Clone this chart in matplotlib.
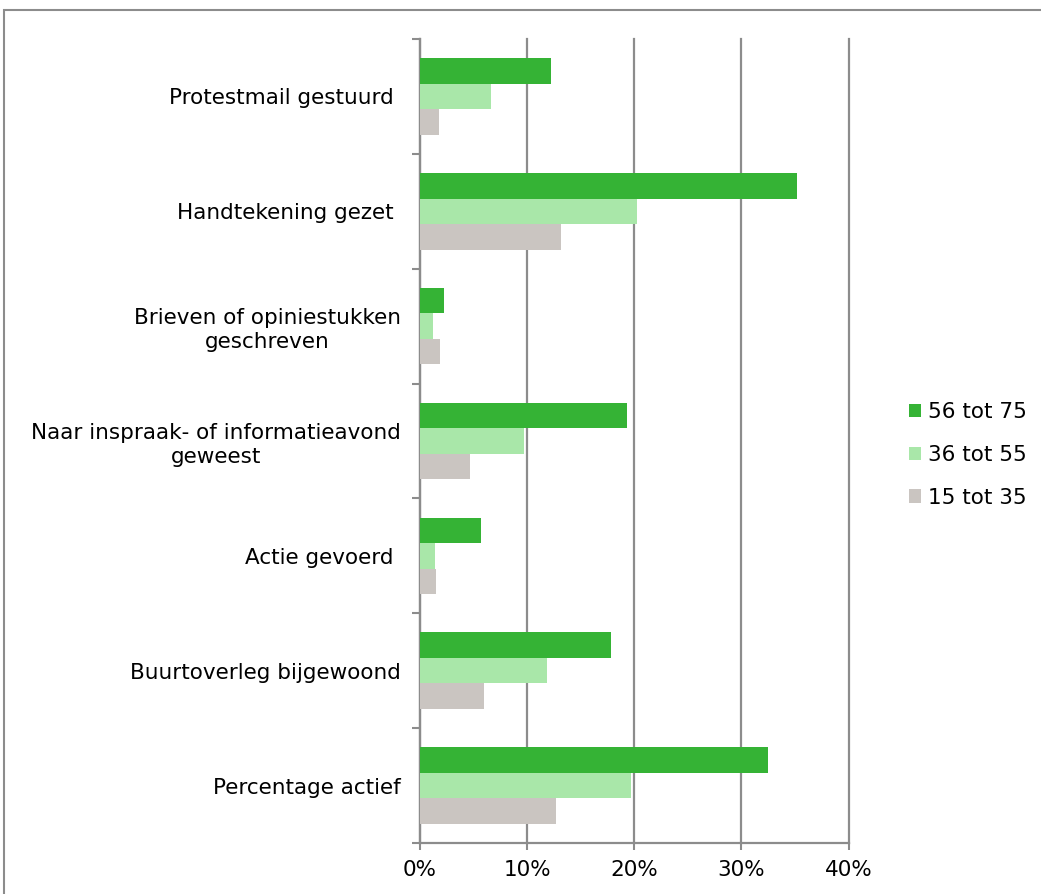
import matplotlib
matplotlib.use('Agg')
import matplotlib.pyplot as plt
from matplotlib.patches import Rectangle
from matplotlib.ticker import FixedLocator, PercentFormatter
import numpy as np

# data (percentages), categories from top to bottom
categories = ['Protestmail gestuurd ', 'Handtekening gezet ',
              'Brieven of opiniestukken\ngeschreven',
              'Naar inspraak- of informatieavond\ngeweest',
              'Actie gevoerd ', 'Buurtoverleg bijgewoond',
              'Percentage actief']
age_56_75 = [12.2, 35.2, 2.2, 19.3, 5.7, 17.8, 32.5]
age_36_55 = [6.6, 20.3, 1.25, 9.7, 1.4, 11.9, 19.7]
age_15_35 = [1.8, 13.2, 1.9, 4.7, 1.5, 6.0, 12.7]
series_names = ['56 tot 75', '36 tot 55', '15 tot 35']
colors = ['#35B335', '#A9E7A9', '#CAC5C1']

plt.rcParams['font.family'] = 'DejaVu Sans'
fig = plt.figure(figsize=(10.41, 8.94), dpi=100)
ax = fig.add_axes([420 / 1041, 1 - 843 / 894, (848.5 - 420) / 1041, (843 - 39) / 894])

y = np.arange(len(categories))
h = 0.222
for i, (vals, name, col) in enumerate(zip([age_56_75, age_36_55, age_15_35], series_names, colors)):
    ax.barh(y + (i - 1) * h, vals, height=h, color=col, label=name, zorder=3)

grey = '#8C8C8C'
fs = 15.5
ax.set_xlim(0, 40)
ax.set_ylim(len(categories) - 0.5, -0.5)
ax.set_xticks([0, 10, 20, 30, 40])
ax.xaxis.set_major_formatter(PercentFormatter(decimals=0))
ax.grid(axis='x', color=grey, linewidth=1.6, zorder=0)
for gl in ax.get_xgridlines():
    gl.set_clip_on(False)

ax.set_yticks(y)
ax.set_yticklabels(categories, multialignment='center', linespacing=1.25)
ax.yaxis.set_minor_locator(FixedLocator(np.arange(-0.5, len(categories), 1.0)))
ax.tick_params(axis='y', which='major', length=0, pad=14, labelsize=fs)
ax.tick_params(axis='y', which='minor', length=6, width=1.5, color=grey, direction='out')
ax.tick_params(axis='x', length=5, width=1.5, color=grey, pad=7, labelsize=fs)

for s in ['top', 'right']:
    ax.spines[s].set_visible(False)
for s in ['left', 'bottom']:
    ax.spines[s].set_color(grey)
    ax.spines[s].set_linewidth(1.6)

ax.legend(loc='center left', bbox_to_anchor=(909 / 1041, 1 - 455 / 894),
          bbox_transform=fig.transFigure, frameon=False, fontsize=fs,
          handlelength=0.56, handleheight=0.56, handletextpad=0.3,
          labelspacing=1.05, borderpad=0, borderaxespad=0)

# outer chart border
fig.patches.append(Rectangle((4 / 1041, -0.1), 2, 1.1 - 10 / 894,
                             transform=fig.transFigure, fill=False,
                             edgecolor=grey, linewidth=1.5))

fig.savefig('out.png', dpi=100)
